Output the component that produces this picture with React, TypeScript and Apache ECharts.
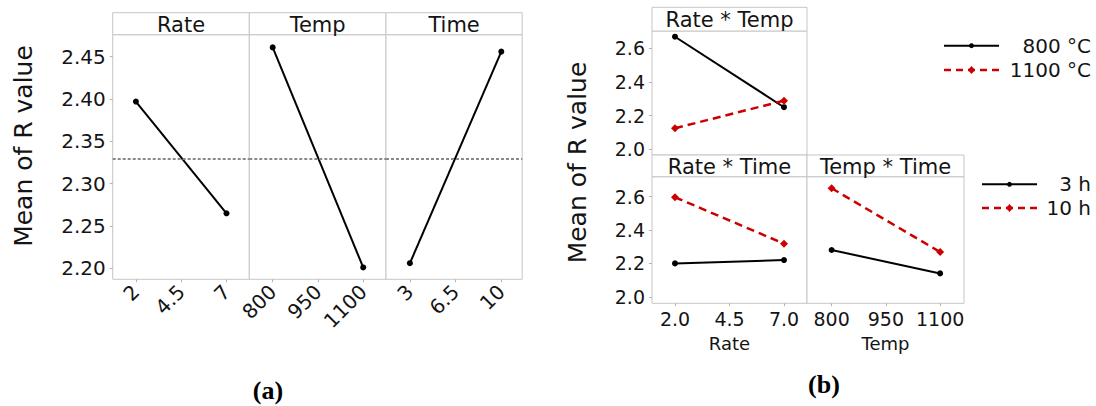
import React, { useEffect, useRef } from "react";
import * as echarts from "echarts";

// Factor levels
const rateLevels = [2, 7];
const tempLevels = [800, 1100];
const timeLevels = [3, 10];

// Main effects: mean of R value at each level
const rateMeans = [2.397, 2.265];
const tempMeans = [2.461, 2.201];
const timeMeans = [2.206, 2.456];
const grandMean = 2.332;

// Interaction means
const rateTemp800 = [2.669, 2.25];
const rateTemp1100 = [2.125, 2.289];
const rateTime3 = [2.2, 2.22];
const rateTime10 = [2.596, 2.318];
const tempTime3 = [2.28, 2.14];
const tempTime10 = [2.65, 2.268];

// Tick labels
const rateTicks = [2, 4.5, 7];
const tempTicks = [800, 950, 1100];
const timeTicks = [3, 6.5, 10];
const mainYTicks = [2.2, 2.25, 2.3, 2.35, 2.4, 2.45];
const interYTicks = [2.0, 2.2, 2.4, 2.6];

const FONT = "DejaVu Sans";
const INK = "#141414";
const FRAME = "#c6c6c6";
const RED = "#cc0000";

const pairs = (xs: number[], ys: number[]) => xs.map((x, i) => [x, ys[i]]);

export default function App() {
  const ref = useRef<HTMLDivElement>(null);

  useEffect(() => {
    if (!ref.current) return;
    const chart = echarts.init(ref.current, null, { renderer: "svg" });

    const grids = [
      // (a) main effects
      { left: 112.7, top: 34.7, width: 136.6, height: 244.6 },
      { left: 249.3, top: 34.7, width: 136.7, height: 244.6 },
      { left: 386, top: 34.7, width: 136.2, height: 244.6 },
      // (b) interactions
      { left: 652, top: 31, width: 155, height: 124 },
      { left: 652, top: 176.7, width: 155, height: 126.6 },
      { left: 807, top: 176.7, width: 157, height: 126.6 },
    ].map((g) => ({
      ...g,
      show: true,
      borderColor: FRAME,
      borderWidth: 1,
      backgroundColor: "#fff",
      containLabel: false,
    }));

    const tickStyle = { show: true, length: 3, lineStyle: { color: "#b5b5b5", width: 1 } };

    const mainX = (gi: number, min: number, max: number, ticks: number[]) => ({
      type: "value",
      gridIndex: gi,
      min,
      max,
      axisLine: { show: false },
      splitLine: { show: false },
      axisTick: { ...tickStyle, customValues: ticks },
      axisLabel: {
        customValues: ticks,
        rotate: 45,
        fontSize: 20,
        fontFamily: FONT,
        color: INK,
        margin: 9,
        formatter: (v: number) => String(v),
      },
    });

    const mainY = (gi: number, showLabels: boolean) => ({
      type: "value",
      gridIndex: gi,
      min: 2.187,
      max: 2.476,
      axisLine: { show: false },
      splitLine: { show: false },
      axisTick: { ...tickStyle, show: showLabels, customValues: mainYTicks },
      axisLabel: {
        show: showLabels,
        customValues: mainYTicks,
        fontSize: 20,
        fontFamily: FONT,
        color: INK,
        margin: 7,
        formatter: (v: number) => v.toFixed(2),
      },
    });

    const interX = (
      gi: number,
      min: number,
      max: number,
      ticks: number[],
      showLabels: boolean,
      name: string,
      fmt: (v: number) => string
    ) => ({
      type: "value",
      gridIndex: gi,
      min,
      max,
      name,
      nameLocation: "middle",
      nameGap: 31,
      nameTextStyle: { fontSize: 18, fontFamily: FONT, color: INK },
      axisLine: { show: false },
      splitLine: { show: false },
      axisTick: { ...tickStyle, show: showLabels, customValues: ticks },
      axisLabel: {
        show: showLabels,
        customValues: ticks,
        fontSize: 19,
        fontFamily: FONT,
        color: INK,
        margin: 6,
        formatter: fmt,
      },
    });

    const interY = (gi: number, min: number, max: number, showLabels: boolean) => ({
      type: "value",
      gridIndex: gi,
      min,
      max,
      axisLine: { show: false },
      splitLine: { show: false },
      axisTick: { ...tickStyle, show: showLabels, customValues: interYTicks },
      axisLabel: {
        show: showLabels,
        customValues: interYTicks,
        fontSize: 19,
        fontFamily: FONT,
        color: INK,
        margin: 7,
        formatter: (v: number) => v.toFixed(1),
      },
    });

    const meanLine = {
      silent: true,
      symbol: ["none", "none"],
      label: { show: false },
      lineStyle: { type: [3, 2], color: "#8a8a8a", width: 2 },
      data: [{ yAxis: grandMean }],
    };

    const solid = (name: string, axis: number, data: number[][], withMean = false) => ({
      type: "line",
      name,
      xAxisIndex: axis,
      yAxisIndex: axis,
      data,
      symbol: "circle",
      symbolSize: 6,
      itemStyle: { color: "#000" },
      lineStyle: { color: "#000", width: 2 },
      ...(withMean ? { markLine: meanLine } : {}),
    });

    const dashed = (name: string, axis: number, data: number[][]) => ({
      type: "line",
      name,
      xAxisIndex: axis,
      yAxisIndex: axis,
      data,
      symbol: "diamond",
      symbolSize: 8,
      itemStyle: { color: RED },
      lineStyle: { color: RED, width: 2.5, type: [8, 5] },
    });

    const header = (x: number, y: number, w: number, h: number, label: string, size: number) => [
      {
        type: "rect",
        shape: { x, y, width: w, height: h },
        style: { fill: "#fff", stroke: FRAME, lineWidth: 1 },
        z: 10,
      },
      {
        type: "text",
        x: x + w / 2,
        y: y + h / 2 + 1,
        style: {
          text: label,
          fontSize: size,
          fontFamily: FONT,
          fill: INK,
          textAlign: "center",
          textVerticalAlign: "middle",
        },
        z: 11,
      },
    ];

    const legendRow = (x1: number, x2: number, y: number, label: string, red: boolean) => {
      const cx = (x1 + x2) / 2;
      const line = {
        type: "line",
        shape: { x1, y1: y, x2, y2: y },
        style: red
          ? { stroke: RED, lineWidth: 2.5, lineDash: [7, 5] }
          : { stroke: "#000", lineWidth: 2 },
      };
      const marker = red
        ? {
            type: "polygon",
            shape: { points: [[cx, y - 4], [cx + 3.5, y], [cx, y + 4], [cx - 3.5, y]] },
            style: { fill: RED },
          }
        : { type: "circle", shape: { cx, cy: y, r: 2.5 }, style: { fill: "#000" } };
      const text = {
        type: "text",
        x: 1091,
        y,
        style: {
          text: label,
          fontSize: 20,
          fontFamily: FONT,
          fill: INK,
          textAlign: "right",
          textVerticalAlign: "middle",
        },
      };
      return [line, marker, text];
    };

    const yTitle = (x: number, y: number) => ({
      type: "text",
      x,
      y,
      rotation: Math.PI / 2,
      style: {
        text: "Mean of R value",
        fontSize: 25,
        fontFamily: FONT,
        fill: INK,
        textAlign: "center",
        textVerticalAlign: "middle",
      },
    });

    const panelTag = (x: number, y: number, label: string) => ({
      type: "text",
      x,
      y,
      style: {
        text: label,
        fontSize: 26,
        fontWeight: "bold",
        fontFamily: "Liberation Serif",
        fill: "#000",
        textAlign: "center",
        textVerticalAlign: "middle",
      },
    });

    const option = {
      animation: false,
      backgroundColor: "#fff",
      grid: grids,
      xAxis: [
        mainX(0, 0.72, 8.26, rateTicks),
        mainX(1, 722.5, 1175.5, tempTicks),
        mainX(2, 1.17, 11.6, timeTicks),
        interX(3, 0.945, 8.055, rateTicks, false, "", (v) => v.toFixed(1)),
        interX(4, 0.945, 8.055, rateTicks, true, "Rate", (v) => v.toFixed(1)),
        interX(5, 732, 1166, tempTicks, true, "Temp", (v) => String(v)),
      ],
      yAxis: [
        mainY(0, true),
        mainY(1, false),
        mainY(2, false),
        interY(3, 1.966, 2.703, true),
        interY(4, 1.961, 2.719, true),
        interY(5, 1.961, 2.719, false),
      ],
      series: [
        solid("Rate", 0, pairs(rateLevels, rateMeans), true),
        solid("Temp", 1, pairs(tempLevels, tempMeans), true),
        solid("Time", 2, pairs(timeLevels, timeMeans), true),
        solid("800 °C", 3, pairs(rateLevels, rateTemp800)),
        dashed("1100 °C", 3, pairs(rateLevels, rateTemp1100)),
        solid("3 h", 4, pairs(rateLevels, rateTime3)),
        dashed("10 h", 4, pairs(rateLevels, rateTime10)),
        solid("3 h", 5, pairs(tempLevels, tempTime3)),
        dashed("10 h", 5, pairs(tempLevels, tempTime10)),
      ],
      graphic: {
        elements: [
          ...header(112.7, 12.7, 136.6, 22, "Rate", 21),
          ...header(249.3, 12.7, 136.7, 22, "Temp", 21),
          ...header(386, 12.7, 136.2, 22, "Time", 21),
          ...header(652, 7.3, 155, 23.7, "Rate * Temp", 21),
          ...header(652, 155, 155, 21.7, "Rate * Time", 21),
          ...header(807, 155, 157, 21.7, "Temp * Time", 21),
          yTitle(23.3, 146),
          yTitle(577, 162.5),
          panelTag(268, 390, "(a)"),
          panelTag(824, 384, "(b)"),
          ...legendRow(944, 999, 45.7, "800 °C", false),
          ...legendRow(944, 999, 70, "1100 °C", true),
          ...legendRow(982, 1037, 184.3, "3 h", false),
          ...legendRow(982, 1037, 208, "10 h", true),
        ],
      },
    };

    chart.setOption(option as any);
    return () => chart.dispose();
  }, []);

  return (
    <div
      ref={ref}
      style={{ position: "fixed", left: 0, top: 0, width: 1096, height: 406, background: "#fff" }}
    />
  );
}
